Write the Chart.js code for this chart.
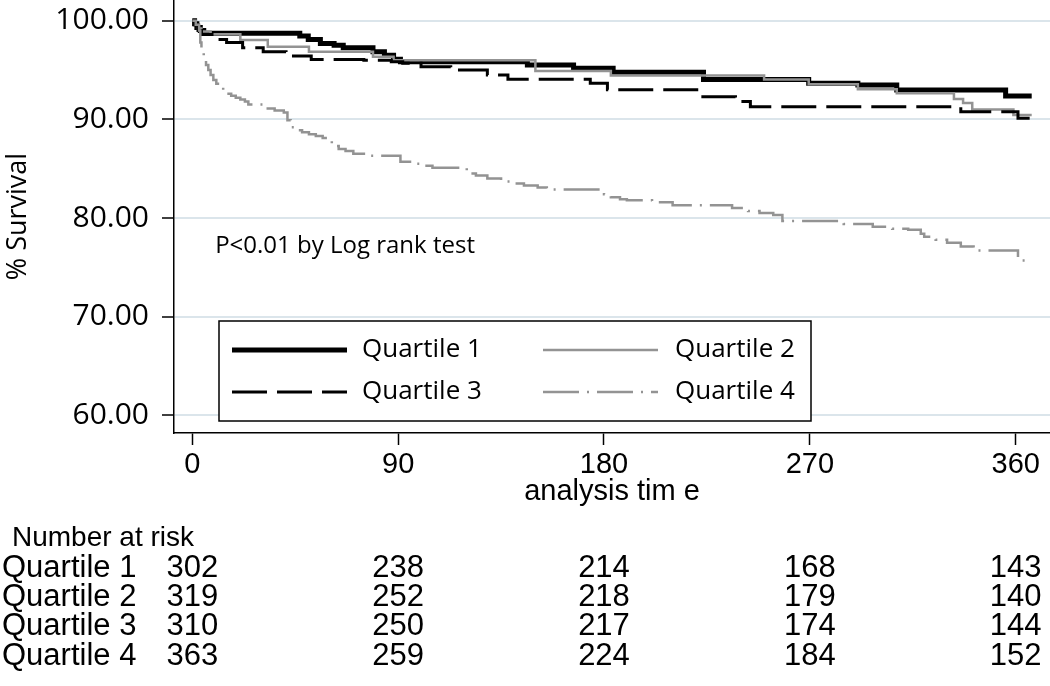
<!DOCTYPE html>
<html>
<head>
<meta charset="utf-8">
<script src="https://cdn.jsdelivr.net/npm/chart.js@4/dist/chart.umd.min.js"></script>
<style>
html,body{margin:0;padding:0;background:#fff;}
#wrap{width:1050px;height:686px;position:relative;}
</style>
</head>
<body>
<div id="wrap"><canvas id="c" width="1050" height="686"></canvas></div>
<script>
// ---------------- data ----------------
const seriesNames = ['Quartile 1', 'Quartile 2', 'Quartile 3', 'Quartile 4'];

const q1Time = [0, 1, 2, 3.5, 5, 47, 50.7, 56, 62, 66, 79, 84, 88, 91, 146.5, 166.7, 184, 223.5, 269.5, 291, 308, 355.6, 367];
const q1Surv = [100, 99.7, 99.3, 99.0, 98.72, 98.45, 98.1, 97.7, 97.5, 97.26, 96.86, 96.5, 96.1, 95.84, 95.5, 95.17, 94.77, 94.04, 93.65, 93.48, 92.97, 92.36, 92.36];

const q2Time = [0, 1, 2.5, 4, 8, 21, 33, 51, 79, 88, 150, 183, 250, 269.5, 291, 308, 333, 337, 341, 359, 367];
const q2Surv = [100, 99.6, 99.2, 98.9, 98.62, 98.04, 97.36, 96.86, 96.35, 96.0, 94.9, 94.45, 94.04, 93.55, 93.04, 92.64, 92.06, 91.65, 91.0, 90.44, 90.44];

const q3Time = [0, 1, 2.5, 4, 11, 15, 22, 31, 41, 52, 75, 87, 92, 100, 113, 129, 138, 174, 181.5, 222, 237.5, 244, 336, 361, 367];
const q3Surv = [100, 99.6, 99.0, 98.6, 98.1, 97.8, 97.26, 96.86, 96.42, 96.08, 96.0, 95.84, 95.68, 95.33, 95.0, 94.5, 94.06, 93.65, 93.0, 92.3, 91.8, 91.28, 90.77, 90.1, 90.1];

const q4Time = [0, 1.5, 3, 3.5, 4, 5, 6, 7, 8, 9.2, 10.5, 12, 13.5, 15, 17, 19, 21, 23, 24.5, 31, 36, 40, 41.6, 43, 45, 48, 51, 54, 57, 61, 64, 67, 70.4, 75.7, 91, 97, 101, 105, 120, 124, 129, 135, 139, 145, 151, 155, 178.5, 180, 183, 187, 190, 201, 210, 236, 243, 248, 254, 258, 284.8, 297.5, 306, 313, 318.5, 320, 325, 330, 336, 341.6, 361, 366.6];
const q4Surv = [100, 99.6, 99.0, 97.8, 97.0, 96.2, 95.5, 95.0, 94.5, 94.0, 93.6, 93.2, 92.8, 92.6, 92.4, 92.2, 92.0, 91.8, 91.5, 91.1, 90.9, 90.7, 89.9, 89.2, 88.9, 88.7, 88.5, 88.3, 88.1, 87.3, 87.0, 86.8, 86.5, 86.3, 85.7, 85.5, 85.3, 85.1, 84.5, 84.3, 84.0, 83.7, 83.5, 83.3, 83.1, 82.9, 82.6, 82.4, 82.1, 81.9, 81.8, 81.6, 81.3, 81.0, 80.7, 80.5, 80.3, 79.7, 79.4, 79.1, 78.9, 78.8, 78.4, 78.1, 77.8, 77.5, 77.1, 76.7, 75.7, 75.7];

const xTickValues = [0, 90, 180, 270, 360];
const yTickValues = [60, 70, 80, 90, 100];

const riskTimes = [0, 90, 180, 270, 360];
const riskQ1 = [302, 238, 214, 168, 143];
const riskQ2 = [319, 252, 218, 179, 140];
const riskQ3 = [310, 250, 217, 174, 144];
const riskQ4 = [363, 259, 224, 184, 152];

const yAxisTitle = '% Survival';
const xAxisTitle = 'analysis tim e';
const riskHeader = 'Number at risk';
const pValueText = 'P<0.01 by Log rank test';

// ---------------- styles ----------------
const FONT_REG = '"Open Sans", "Liberation Sans", sans-serif';
const FONT_TABLE = '"Liberation Sans", Arial, sans-serif';
const TXT = '#000';
const GREY = '#939393';

function pts(t, s) { return t.map((v, i) => ({ x: v, y: s[i] })); }

const datasets = [
  { label: seriesNames[0], data: pts(q1Time, q1Surv), borderColor: '#000', borderWidth: 5, borderDash: [], order: 4 },
  { label: seriesNames[1], data: pts(q2Time, q2Surv), borderColor: GREY, borderWidth: 2.5, borderDash: [], order: 3 },
  { label: seriesNames[2], data: pts(q3Time, q3Surv), borderColor: '#000', borderWidth: 3, borderDash: [35, 10], order: 2 },
  { label: seriesNames[3], data: pts(q4Time, q4Surv), borderColor: GREY, borderWidth: 2.5, borderDash: [36, 8, 2, 8], order: 1 }
].map(d => Object.assign(d, { stepped: true, pointRadius: 0, fill: false, tension: 0, borderCapStyle: 'butt', borderJoinStyle: 'miter' }));

const riskRows = [riskQ1, riskQ2, riskQ3, riskQ4];

const kmExtras = {
  id: 'kmExtras',
  afterDatasetsDraw(chart) {
    const ctx = chart.ctx;
    const xs = chart.scales.x, ys = chart.scales.y;
    ctx.save();
    // p-value annotation
    ctx.fillStyle = TXT;
    ctx.font = '24px ' + FONT_REG;
    ctx.textBaseline = 'middle';
    ctx.textAlign = 'left';
    ctx.fillText(pValueText, xs.getPixelForValue(10), ys.getPixelForValue(77.15));

    // legend box
    const bx = 219, by = 321, bw = 592, bh = 100;
    ctx.fillStyle = '#fff';
    ctx.fillRect(bx, by, bw, bh);
    ctx.strokeStyle = '#000';
    ctx.lineWidth = 1.5;
    ctx.strokeRect(bx, by, bw, bh);
    const cols = [{ lx: 232, tx: 362 }, { lx: 543, tx: 675 }];
    const rows = [350, 392];
    chart.data.datasets.forEach((ds, i) => {
      const c = cols[i % 2], y = rows[Math.floor(i / 2)];
      ctx.beginPath();
      ctx.setLineDash(ds.borderDash || []);
      ctx.lineWidth = ds.borderWidth;
      ctx.strokeStyle = ds.borderColor;
      ctx.lineCap = 'butt';
      ctx.moveTo(c.lx, y);
      ctx.lineTo(c.lx + 115, y);
      ctx.stroke();
      ctx.setLineDash([]);
      ctx.fillStyle = TXT;
      ctx.font = '26px ' + FONT_REG;
      ctx.textBaseline = 'middle';
      ctx.textAlign = 'left';
      ctx.fillText(ds.label, c.tx, y);
    });
    ctx.restore();
  },
  afterDraw(chart) {
    const ctx = chart.ctx;
    const xs = chart.scales.x;
    const ca = chart.chartArea;
    ctx.save();
    ctx.fillStyle = TXT;
    ctx.textBaseline = 'middle';
    // x axis title
    ctx.font = '29px ' + FONT_TABLE;
    ctx.textAlign = 'center';
    ctx.fillText(xAxisTitle, (ca.left + ca.right) / 2, 492);
    // risk table
    ctx.font = '28px ' + FONT_TABLE;
    ctx.textAlign = 'left';
    ctx.fillText(riskHeader, 12, 538);
    ctx.font = '31px ' + FONT_TABLE;
    const rowY = [568, 597, 626, 656];
    riskRows.forEach((row, r) => {
      ctx.textAlign = 'left';
      ctx.fillText(seriesNames[r], 2, rowY[r]);
      ctx.textAlign = 'center';
      row.forEach((n, i) => {
        ctx.fillText(String(n), xs.getPixelForValue(riskTimes[i]), rowY[r]);
      });
    });
    ctx.restore();
  }
};

new Chart(document.getElementById('c'), {
  type: 'line',
  data: { datasets },
  plugins: [kmExtras],
  options: {
    responsive: false,
    devicePixelRatio: 1,
    animation: false,
    layout: { padding: { top: 0, right: 0, bottom: 0, left: 0 } },
    plugins: { legend: { display: false }, tooltip: { enabled: false } },
    scales: {
      x: {
        type: 'linear',
        min: -8,
        max: 375,
        afterBuildTicks: s => { s.ticks = xTickValues.map(v => ({ value: v })); },
        afterFit: s => { s.height = 253; s.paddingLeft = 0; s.paddingRight = 0; },
        ticks: { font: { family: FONT_TABLE, size: 29 }, color: TXT, padding: 3, maxRotation: 0, autoSkip: false },
        grid: { drawOnChartArea: false, drawTicks: true, tickLength: 12, tickColor: '#000', tickWidth: 1.5 },
        border: { display: true, color: '#000', width: 1.5 }
      },
      y: {
        type: 'linear',
        min: 58.2,
        max: 102.1,
        afterBuildTicks: s => { s.ticks = yTickValues.map(v => ({ value: v })); },
        afterFit: s => { s.width = 174; s.paddingTop = 0; s.paddingBottom = 0; },
        ticks: { font: { family: FONT_REG, size: 30 }, color: TXT, padding: 13, callback: v => Number(v).toFixed(2) },
        grid: { color: '#dbe5eb', lineWidth: 2, drawTicks: true, tickLength: 12, tickColor: '#000', tickWidth: 1.5 },
        border: { display: true, color: '#000', width: 1.5 },
        title: { display: true, text: yAxisTitle, font: { family: FONT_REG, size: 27 }, color: TXT, padding: { top: 2, bottom: 2 } }
      }
    }
  }
});
</script>
</body>
</html>
